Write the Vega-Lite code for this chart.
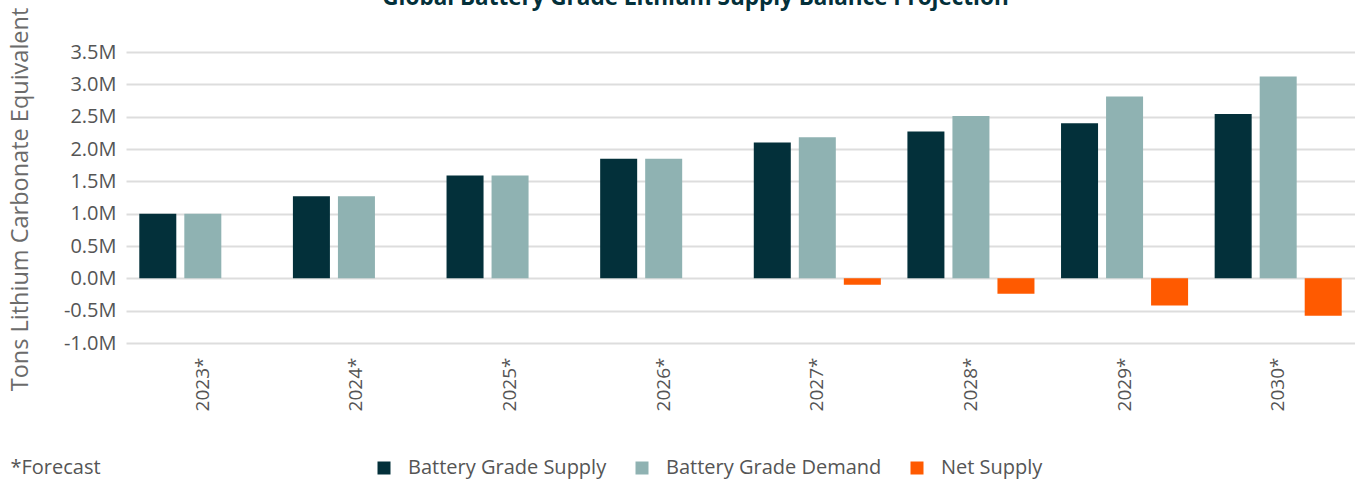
{
  "$schema": "https://vega.github.io/schema/vega-lite/v6.json",
  "autosize": "none",
  "width": 1229,
  "height": 291,
  "padding": {"left": 126, "top": 52, "right": 0, "bottom": 136},
  "background": "white",
  "config": {
    "font": "Open Sans",
    "view": {"stroke": null}
  },
  "title": {
    "text": "Global Battery Grade Lithium Supply Balance Projection",
    "anchor": "middle",
    "frame": "group",
    "dx": -45,
    "dy": 25,
    "baseline": "alphabetic",
    "offset": 5,
    "fontSize": 22.5,
    "fontWeight": "bold",
    "color": "#03303a",
    "font": "Open Sans"
  },
  "data": {
    "values": [
      {"year": "2023*", "series": "Battery Grade Supply", "value": 1000000},
      {"year": "2023*", "series": "Battery Grade Demand", "value": 1000000},
      {"year": "2024*", "series": "Battery Grade Supply", "value": 1270000},
      {"year": "2024*", "series": "Battery Grade Demand", "value": 1270000},
      {"year": "2025*", "series": "Battery Grade Supply", "value": 1590000},
      {"year": "2025*", "series": "Battery Grade Demand", "value": 1590000},
      {"year": "2026*", "series": "Battery Grade Supply", "value": 1850000},
      {"year": "2026*", "series": "Battery Grade Demand", "value": 1850000},
      {"year": "2027*", "series": "Battery Grade Supply", "value": 2100000},
      {"year": "2027*", "series": "Battery Grade Demand", "value": 2180000},
      {"year": "2027*", "series": "Net Supply", "value": -100000},
      {"year": "2028*", "series": "Battery Grade Supply", "value": 2270000},
      {"year": "2028*", "series": "Battery Grade Demand", "value": 2510000},
      {"year": "2028*", "series": "Net Supply", "value": -240000},
      {"year": "2029*", "series": "Battery Grade Supply", "value": 2400000},
      {"year": "2029*", "series": "Battery Grade Demand", "value": 2810000},
      {"year": "2029*", "series": "Net Supply", "value": -420000},
      {"year": "2030*", "series": "Battery Grade Supply", "value": 2540000},
      {"year": "2030*", "series": "Battery Grade Demand", "value": 3120000},
      {"year": "2030*", "series": "Net Supply", "value": -580000}
    ]
  },
  "mark": {"type": "bar"},
  "encoding": {
    "x": {
      "field": "year",
      "type": "nominal",
      "sort": null,
      "scale": {"paddingInner": 0.173, "paddingOuter": 0.0865},
      "axis": {
        "title": "*Forecast",
        "titleFontSize": 20,
        "titleFontWeight": "normal",
        "titleColor": "#555555",
        "titleAnchor": "start",
        "titleAlign": "left",
        "titleBaseline": "middle",
        "titleX": -116,
        "titleY": 124,
        "labelAngle": -90,
        "labelAlign": "right",
        "labelBaseline": "middle",
        "labelFontSize": 19,
        "labelColor": "#555555",
        "labelPadding": 14,
        "domain": false,
        "ticks": false,
        "grid": false
      }
    },
    "xOffset": {
      "field": "series",
      "type": "nominal",
      "scale": {
        "domain": ["Battery Grade Supply", "Battery Grade Demand", "Net Supply"],
        "paddingInner": 0.178,
        "paddingOuter": 0
      }
    },
    "y": {
      "field": "value",
      "type": "quantitative",
      "scale": {"domain": [-1000000, 3500000], "nice": false, "zero": true},
      "axis": {
        "title": "Tons Lithium Carbonate Equivalent",
        "titleFontSize": 23.5,
        "titleFontWeight": "normal",
        "titleColor": "#6b6b6b",
        "titleAngle": -90,
        "titleAlign": "center",
        "titleBaseline": "middle",
        "titleX": -106,
        "titleY": 147,
        "values": [-1000000, -500000, 0, 500000, 1000000, 1500000, 2000000, 2500000, 3000000, 3500000],
        "labelExpr": "(datum.value < 0 ? '-' : '') + format(abs(datum.value) / 1000000, '.1f') + 'M'",
        "labelFontSize": 20,
        "labelColor": "#555555",
        "labelPadding": 10,
        "domain": false,
        "ticks": false,
        "grid": true,
        "gridColor": "#dddddd",
        "gridWidth": 2
      }
    },
    "color": {
      "field": "series",
      "type": "nominal",
      "scale": {
        "domain": ["Battery Grade Supply", "Battery Grade Demand", "Net Supply"],
        "range": ["#03303a", "#8fb2b2", "#ff5a00"]
      },
      "legend": {
        "title": null,
        "orient": "none",
        "direction": "horizontal",
        "legendX": 248,
        "legendY": 406,
        "symbolType": "square",
        "symbolSize": 169,
        "symbolStrokeWidth": 0,
        "labelFontSize": 20,
        "labelColor": "#555555",
        "labelOffset": 14,
        "labelLimit": 400,
        "columnPadding": 25
      }
    }
  }
}
